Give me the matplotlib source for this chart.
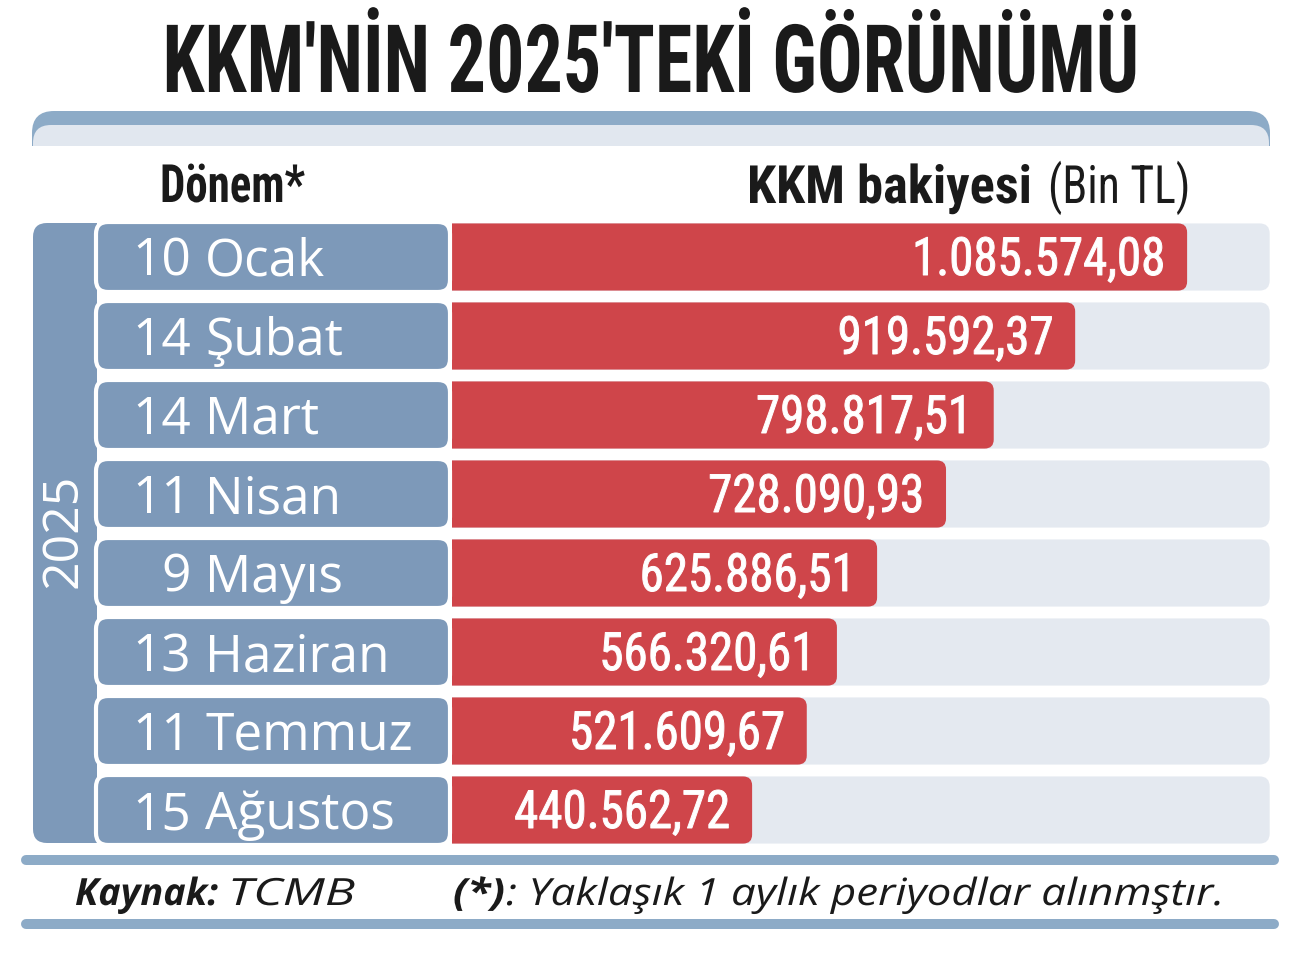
import matplotlib
matplotlib.use("Agg")
import matplotlib.pyplot as plt
from matplotlib import font_manager as fm
from matplotlib.patches import FancyBboxPatch, Rectangle
from matplotlib.patheffects import AbstractPathEffect
from matplotlib.transforms import Affine2D

# data
dates = ["10 Ocak", "14 Şubat", "14 Mart", "11 Nisan",
         "9 Mayıs", "13 Haziran", "11 Temmuz", "15 Ağustos"]
values = [1085574.08, 919592.37, 798817.51, 728090.93,
          625886.51, 566320.61, 521609.67, 440562.72]
year = "2025"

title = "KKM'NİN 2025'TEKİ GÖRÜNÜMÜ"
col_left = "Dönem*"
col_right = "KKM bakiyesi"
col_unit = "(Bin TL)"
source_label = "Kaynak:"
source = "TCMB"
note_mark = "(*)"
note = ": Yaklaşık 1 aylık periyodlar alınmştır."

BLUE = "#7d99b9"
RED = "#cf454a"
TRACK = "#e4e9f0"
BAND = "#8dabc7"
BAND_LIGHT = "#e1e7ef"
INK = "#1a1a1a"

names = {f.name for f in fm.fontManager.ttflist}


def pick(*cands):
    for c in cands:
        if c in names:
            return c
    return "DejaVu Sans"


COND = pick("Roboto Condensed", "Liberation Sans Narrow", "Roboto", "Liberation Sans")
SANS = pick("Open Sans", "Noto Sans")
italics = {f.name for f in fm.fontManager.ttflist if f.style == "italic"}
FOOT = SANS if SANS in italics else pick("Noto Sans", "DejaVu Sans")


class Squeeze(AbstractPathEffect):
    # rescales glyphs horizontally around x0 (display px), optional outline to thicken
    def __init__(self, sx, x0, lw=0):
        super().__init__()
        self.sx = sx
        self.x0 = x0
        self.lw = lw

    def draw_path(self, renderer, gc, tpath, affine, rgbFace=None):
        t = affine + Affine2D().translate(-self.x0, 0).scale(self.sx, 1).translate(self.x0, 0)
        if self.lw and rgbFace is not None:
            g = renderer.new_gc()
            g.copy_properties(gc)
            g.set_linewidth(self.lw)
            g.set_foreground(rgbFace)
            g.set_joinstyle("round")
            renderer.draw_path(g, tpath, t, rgbFace)
            g.restore()
        else:
            renderer.draw_path(gc, tpath, t, rgbFace)


def tr(v):
    s = f"{v:,.2f}"
    return s.replace(",", "X").replace(".", ",").replace("X", ".")


W, H = 1300, 958
fig = plt.figure(figsize=(13, 9.58), dpi=100)
rend = fig.canvas.get_renderer()


def fit(t, width, x0):
    sx = width / t.get_window_extent(rend).width
    t.set_path_effects([Squeeze(sx, x0)])
    return sx


# bar area
X_MIN, X_MAX = -4450, 1215900
TRACK_END = 1208000
ax = fig.add_axes([452 / W, 1 - 849.5 / H, 823 / W, 632 / H])
ax.set_xlim(X_MIN, X_MAX)
ax.set_ylim(len(dates) - 0.5, -0.5)
ax.axis("off")
ax.set_zorder(0)

ux = (X_MAX - X_MIN) / 823.0   # data units per px
uy = 1 / 79.0
h = 0.85


def rbar(x0, w, y, color, r):
    p = FancyBboxPatch((x0, y - h / 2), w, h,
                       boxstyle=f"round,pad=0,rounding_size={r * ux}",
                       mutation_aspect=uy / ux, fc=color, ec="none")
    ax.add_patch(p)


start = X_MIN - 25 * ux
for i, v in enumerate(values):
    rbar(start, TRACK_END - start, i, TRACK, 10)
    rbar(start, v - start, i, RED, 9)

num_texts = []
for i, v in enumerate(values):
    t = ax.annotate(tr(v), (v, i), xytext=(-22 * 0.72, -18 * 0.72),
                    textcoords="offset points", ha="right", va="baseline",
                    fontsize=38, color="white", family=COND)
    num_texts.append((t, ax.transData.transform((v, i))[0] - 22))

# overlay in pixel coordinates
bg = fig.add_axes([0, 0, 1, 1])
bg.set_xlim(0, W)
bg.set_ylim(H, 0)
bg.axis("off")
bg.set_zorder(1)

# top banner
bg.add_patch(FancyBboxPatch((32, 111), 1238, 80, boxstyle="round,pad=0,rounding_size=22",
                            fc=BAND, ec="none", zorder=1))
bg.add_patch(FancyBboxPatch((33, 125), 1236, 80, boxstyle="round,pad=0,rounding_size=18",
                            fc=BAND_LIGHT, ec="none", zorder=1.1))
bg.add_patch(Rectangle((0, 146), W, 70, fc="white", ec="none", zorder=1.2))

# year panel
bg.add_patch(FancyBboxPatch((33, 223), 120, 620, boxstyle="round,pad=0,rounding_size=14",
                            fc=BLUE, ec="none", zorder=1))
bg.add_patch(Rectangle((97, 220), 60, 630, fc="white", ec="none", zorder=1.2))
bg.text(64, 531, year, rotation=90, ha="center", va="center", fontsize=36,
        color="white", family=SANS, zorder=3)

# label boxes
for i, d in enumerate(dates):
    c = 257 + 79 * i
    bg.add_patch(FancyBboxPatch((96, c - 35), 354, 70, boxstyle="round,pad=0,rounding_size=12",
                                fc=BLUE, ec="white", lw=3, zorder=2))
    day, month = d.split(" ", 1)
    bg.text(191, c + 19, day, ha="right", va="baseline", fontsize=37,
            color="white", family=SANS, zorder=3)
    bg.text(205, c + 19, month, ha="left", va="baseline", fontsize=37,
            color="white", family=SANS, zorder=3)

# footer lines
for yy in (860, 924):
    bg.plot([26, 1274], [yy, yy], color=BAND, lw=7.2, solid_capstyle="round", zorder=1)

# title and headers (condensed via squeeze)
t_title = bg.text(651, 92, title, ha="center", va="baseline", fontsize=68,
                  weight="bold", color=INK, family=COND, zorder=3)
t_left = bg.text(160, 202, col_left, ha="left", va="baseline", fontsize=38,
                 weight="bold", color=INK, family=COND, zorder=3)
t_right = bg.text(747, 203, col_right, ha="left", va="baseline", fontsize=38,
                  weight="bold", color=INK, family=COND, zorder=3)
t_unit = bg.text(1190, 203, col_unit, ha="right", va="baseline", fontsize=38,
                 color=INK, family=COND, zorder=3)

fit(t_title, 977, 651)
fit(t_left, 145, 160)
fit(t_right, 285, 747)
fit(t_unit, 142, 1190)

sx_num = 253 / num_texts[0][0].get_window_extent(rend).width
for t, x0 in num_texts:
    t.set_path_effects([Squeeze(sx_num, x0, lw=0.7)])

# footer text
f1 = bg.text(75, 905, source_label, ha="left", va="baseline", fontsize=27,
             weight="bold", style="italic", color=INK, family=FOOT, zorder=3)
fit(f1, 143, 75)
f2 = bg.text(228, 905, source, ha="left", va="baseline", fontsize=27,
             style="italic", color=INK, family=FOOT, zorder=3)
fit(f2, 127, 228)
f3 = bg.text(453, 905, note_mark, ha="left", va="baseline", fontsize=27,
             weight="bold", style="italic", color=INK, family=FOOT, zorder=3)
fit(f3, 52, 453)
f4 = bg.text(506, 905, note, ha="left", va="baseline", fontsize=27,
             style="italic", color=INK, family=FOOT, zorder=3)
fit(f4, 1225 - 506, 506)

fig.savefig("out.png", dpi=100, facecolor="white")
